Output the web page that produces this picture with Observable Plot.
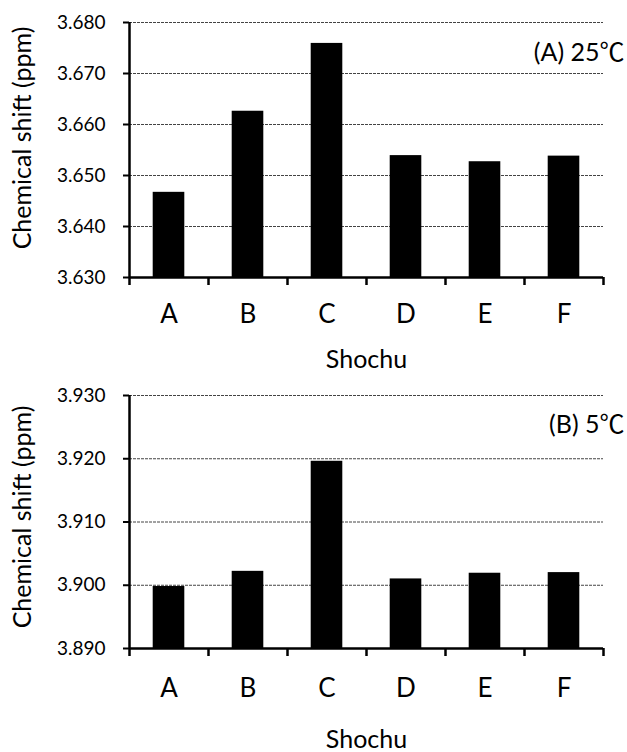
<!DOCTYPE html>
<html><head><meta charset="utf-8">
<script src="https://cdn.jsdelivr.net/npm/d3@7"></script>
<script src="https://cdn.jsdelivr.net/npm/@observablehq/plot@0.6"></script>
<style>body{margin:0;background:#fff;} #chart{width:627px;} #chart svg{display:block;}</style>
</head><body><div id="chart"></div>
<script>
const categories = ["A", "B", "C", "D", "E", "F"];
const shift25 = [3.6467, 3.6626, 3.6759, 3.6539, 3.6527, 3.6538];
const shift5 = [3.8998, 3.9022, 3.9196, 3.9010, 3.9019, 3.9020];
const ticks25 = [3.630, 3.640, 3.650, 3.660, 3.670, 3.680];
const ticks5 = [3.890, 3.900, 3.910, 3.920, 3.930];
const panelLabels = ["(A) 25℃", "(B) 5℃"];
const xTitle = "Shochu";
const yTitle = "Chemical shift (ppm)";

const FONT = "Lato, 'Open Sans', 'Noto Sans CJK JP', sans-serif";

function panel(values, yTicks, label, o) {
  const data = categories.map((c, i) => ({c, i, v: values[i]}));
  const y0 = yTicks[0], y1 = yTicks[yTicks.length - 1];
  const bounds = d3.range(categories.length + 1);
  const centers = categories.map((c, i) => i + 0.5);
  return Plot.plot({
    width: 627, height: o.height,
    marginTop: o.mt, marginBottom: o.mb, marginLeft: 129, marginRight: 24,
    style: {fontFamily: FONT, background: "#fff", color: "#000", overflow: "visible"},
    x: {type: "linear", domain: [0, categories.length], axis: null},
    y: {domain: [y0, y1], axis: null},
    marks: [
      Plot.gridY(yTicks.slice(1), {stroke: "#444", strokeOpacity: 1, strokeWidth: 1, strokeDasharray: "3,1"}),
      Plot.rectY(data, {x1: d => d.i + 0.3, x2: d => d.i + 0.7, y1: y0, y2: "v", fill: "#000"}),
      Plot.axisY(yTicks, {tickFormat: d3.format(".3f"), tickSize: 6, tickPadding: 18, fontSize: 19, strokeWidth: 2, label: null}),
      Plot.ruleX([0], {stroke: "#000", strokeWidth: 2.5}),
      Plot.ruleY([y0], {stroke: "#000", strokeWidth: 2.5}),
      Plot.axisX(bounds, {tickSize: 8, tickFormat: () => "", strokeWidth: 2.5, label: null}),
      Plot.axisX(centers, {tickSize: 0, tickPadding: o.xPad, tickFormat: d => categories[Math.floor(d)], fontSize: 26, label: null}),
      Plot.text([xTitle], {frameAnchor: "bottom", dy: o.titleDy, lineAnchor: "middle", fontSize: 25}),
      Plot.text([yTitle], {frameAnchor: "left", rotate: -90, dx: -107, dy: o.yDy, textAnchor: "middle", lineAnchor: "middle", fontSize: 25}),
      Plot.text([label], {frameAnchor: "top-right", dx: 21, dy: o.labDy, textAnchor: "end", lineAnchor: "middle", fontSize: 25})
    ]
  });
}

const root = document.getElementById("chart");
root.appendChild(panel(shift25, ticks25, panelLabels[0], {height: 375, mt: 22, mb: 98, xPad: 27, titleDy: 82, yDy: -12, labDy: 30}));
root.appendChild(panel(shift5, ticks5, panelLabels[1], {height: 377, mt: 20, mb: 104, xPad: 30, titleDy: 91, yDy: -5, labDy: 29}));
</script>
</body></html>
